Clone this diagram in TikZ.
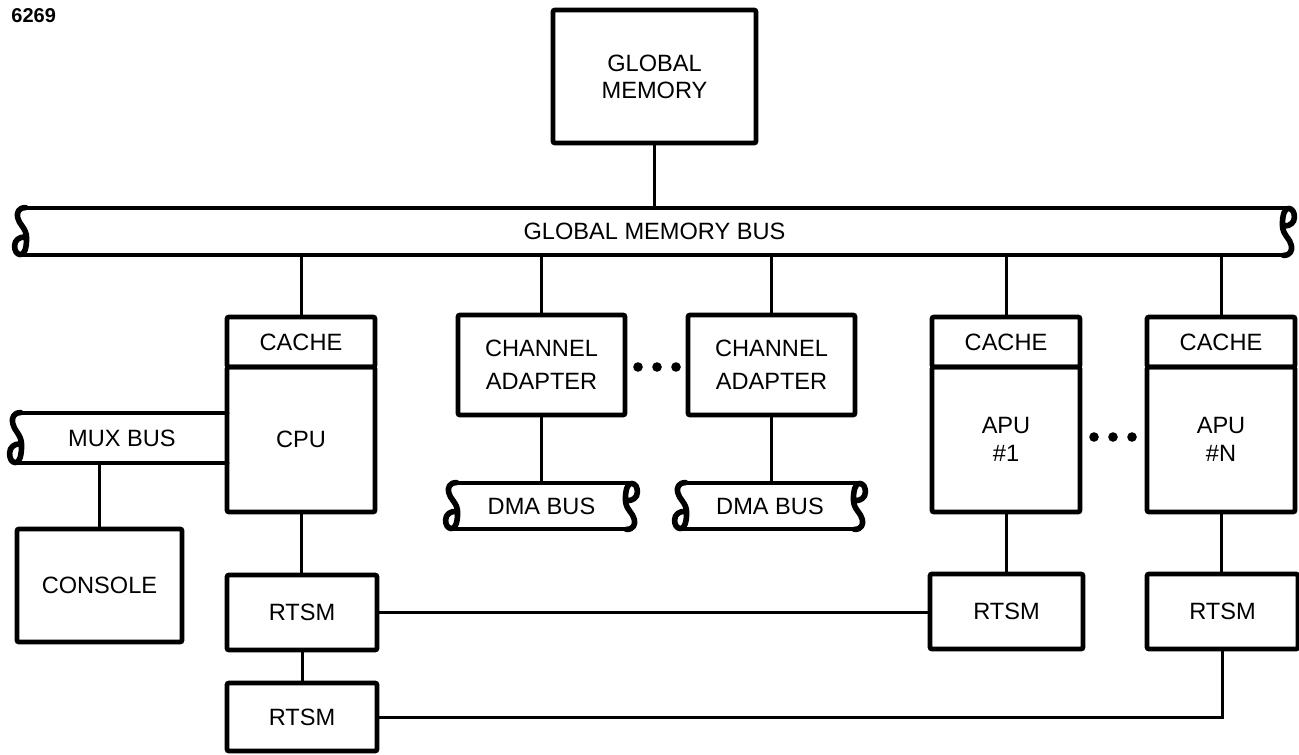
\documentclass[tikz,border=0pt]{standalone}
\usepackage{fontspec}
\setmainfont{Liberation Sans}
\usetikzlibrary{calc}

% Twisted end of a bus tube; local origin is the tube's top-left corner,
% drawn for a tube 48 units high (y grows downward).
\tikzset{
  pics/tubeend/.style={code={
    \draw[line width=2.8pt, line cap=round, line join=round]
      (14,0) .. controls (7,0) and (5,5) .. (6,10)
      .. controls (7,17) and (15,21) .. (15,31)
      .. controls (15,41) and (13,48) .. (9,48)
      .. controls (5,48) and (3,44) .. (3,39)
      .. controls (3,33) and (8,30) .. (13,30);
  }}
}

\begin{document}
\begin{tikzpicture}[x=0.5pt, y=-0.5pt,
  txt/.style={font=\fontsize{11.8}{14}\selectfont},
  box/.style={txt, draw, line width=2.4pt, rounded corners=1pt, inner sep=0pt, align=center},
  bus/.style={txt, inner sep=0pt},
  wire/.style={line width=1.5pt},
  busline/.style={line width=2pt, line cap=round},
  dot/.style={circle, fill, inner sep=0pt, minimum size=4.8pt}
]
\useasboundingbox (0,0) rectangle (1299,754);

% figure number
\node[font=\bfseries\fontsize{10}{11}\selectfont, anchor=west, inner sep=0pt] (fignum) at (11,16) {6269};

% global memory
\node[box, minimum width=101.5pt, minimum height=66.5pt,
      font=\fontsize{11.8}{13.5}\selectfont] (gm) at (654.5,76.5) {GLOBAL\\MEMORY};

% buses (text nodes; outlines drawn below)
\node[bus, minimum width=642.5pt, minimum height=23.5pt] (gmbus) at (654.5,231.5) {GLOBAL MEMORY BUS};
\node[bus, minimum width=110pt, minimum height=25pt] (mux) at (117,438) {\hspace{5pt}MUX BUS};
\node[bus, minimum width=98.5pt, minimum height=23pt] (dma1) at (541.5,506) {DMA BUS};
\node[bus, minimum width=98pt, minimum height=23pt] (dma2) at (770,506) {DMA BUS};

% CPU with cache
\node[box, minimum width=74pt, minimum height=25pt] (cache1) at (301,342) {CACHE};
\node[box, minimum width=74pt, minimum height=72.5pt] (cpu) at (301,439.5) {CPU};

% channel adapters
\node[box, minimum width=83.5pt, minimum height=50pt,
      font=\fontsize{11.8}{16.5}\selectfont] (ca1) at (541.5,365) {CHANNEL\\ADAPTER};
\node[box, minimum width=83.5pt, minimum height=50pt,
      font=\fontsize{11.8}{16.5}\selectfont] (ca2) at (771.5,365) {CHANNEL\\ADAPTER};

% APUs with caches
\node[box, minimum width=74pt, minimum height=25pt] (cache2) at (1006,342) {CACHE};
\node[box, minimum width=74pt, minimum height=72.5pt] (apu1) at (1006,439.5) {APU\\\#1};
\node[box, minimum width=74pt, minimum height=25pt] (cache3) at (1221,342) {CACHE};
\node[box, minimum width=74pt, minimum height=72.5pt] (apun) at (1221,439.5) {APU\\\#N};

% console
\node[box, minimum width=82.5pt, minimum height=56.5pt] (console) at (99.5,585.5) {CONSOLE};

% RTSM units
\node[box, minimum width=75pt, minimum height=37.5pt] (rtsm1) at (302,612.5) {RTSM};
\node[box, minimum width=75pt, minimum height=34pt] (rtsm2) at (302,717) {RTSM};
\node[box, minimum width=76.5pt, minimum height=37.5pt] (rtsma) at (1006.5,611.5) {RTSM};
\node[box, minimum width=75.5pt, minimum height=37.5pt] (rtsmn) at (1222.5,611.5) {RTSM};

% ellipsis dots
\node[dot] (ca-d1) at (638,367) {};
\node[dot] (ca-d2) at (657,367) {};
\node[dot] (ca-d3) at (676,367) {};
\node[dot] (apu-d1) at (1094,437) {};
\node[dot] (apu-d2) at (1113,437) {};
\node[dot] (apu-d3) at (1132,437) {};

% global memory bus outline
\draw[busline] ($(gmbus.north west)+(14,0)$) -- ($(gmbus.north east)+(-9,0)$);
\draw[busline] ($(gmbus.south west)+(9,0)$) -- ($(gmbus.south east)+(-14,0)$);
\pic[yscale=0.979] at (gmbus.north west) {tubeend};
\pic[rotate=180, yscale=0.979] at (gmbus.south east) {tubeend};

% mux bus outline (open end meets the CPU)
\draw[busline] ($(mux.north west)+(14,0)$) -- (mux.north east);
\draw[busline] ($(mux.south west)+(9,0)$) -- (mux.south east);
\pic[yscale=1.042] at (mux.north west) {tubeend};

% DMA bus outlines
\foreach \b in {dma1, dma2} {
  \draw[busline] ($(\b.north west)+(14,0)$) -- ($(\b.north east)+(-9,0)$);
  \draw[busline] ($(\b.south west)+(9,0)$) -- ($(\b.south east)+(-14,0)$);
  \pic[yscale=0.958] at (\b.north west) {tubeend};
  \pic[rotate=180, yscale=0.958] at (\b.south east) {tubeend};
}

% connectors
\draw[wire] (gm.south) -- (gm.south |- gmbus.north);
\foreach \n in {cache1, ca1, ca2, cache2, cache3}
  \draw[wire] (\n.north) -- (\n.north |- gmbus.south);
\draw[wire] (console.north) -- (console.north |- mux.south);
\draw[wire] (ca1.south) -- (ca1.south |- dma1.north);
\draw[wire] (ca2.south) -- (ca2.south |- dma2.north);
\draw[wire] (cpu.south) -- (cpu.south |- rtsm1.north);
\draw[wire] (rtsm1.south) -- (rtsm1.south |- rtsm2.north);
\draw[wire] (apu1.south) -- (apu1.south |- rtsma.north);
\draw[wire] (apun.south) -- (apun.south |- rtsmn.north);
\draw[wire] (rtsm1.east) -- (rtsm1.east -| rtsma.west);
\draw[wire] (rtsm2.east) -| (rtsmn.south);
\end{tikzpicture}
\end{document}
